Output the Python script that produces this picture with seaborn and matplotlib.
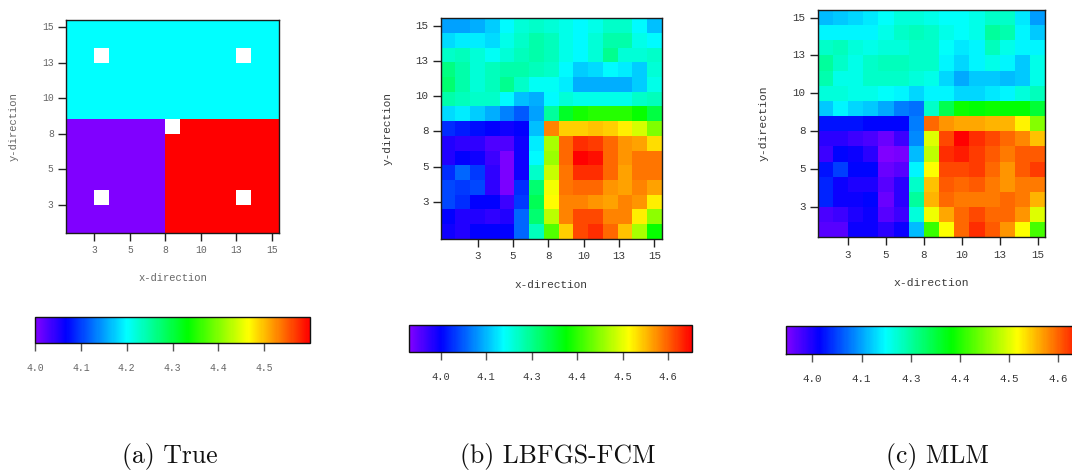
import numpy as np
import pandas as pd
import matplotlib
matplotlib.use("Agg")
import matplotlib.pyplot as plt
import seaborn as sns
from matplotlib.colors import LinearSegmentedColormap, Normalize
from matplotlib.cm import ScalarMappable

nan = np.nan

# ---------------- data ----------------
x_cells = list(range(1, 16))
y_cells = list(range(15, 0, -1))  # rows listed from top (y=15) to bottom (y=1)

true_vals = [
    [4.2, 4.2, 4.2, 4.2, 4.2, 4.2, 4.2, 4.2, 4.2, 4.2, 4.2, 4.2, 4.2, 4.2, 4.2],
    [4.2, 4.2, 4.2, 4.2, 4.2, 4.2, 4.2, 4.2, 4.2, 4.2, 4.2, 4.2, 4.2, 4.2, 4.2],
    [4.2, 4.2, nan, 4.2, 4.2, 4.2, 4.2, 4.2, 4.2, 4.2, 4.2, 4.2, nan, 4.2, 4.2],
    [4.2, 4.2, 4.2, 4.2, 4.2, 4.2, 4.2, 4.2, 4.2, 4.2, 4.2, 4.2, 4.2, 4.2, 4.2],
    [4.2, 4.2, 4.2, 4.2, 4.2, 4.2, 4.2, 4.2, 4.2, 4.2, 4.2, 4.2, 4.2, 4.2, 4.2],
    [4.2, 4.2, 4.2, 4.2, 4.2, 4.2, 4.2, 4.2, 4.2, 4.2, 4.2, 4.2, 4.2, 4.2, 4.2],
    [4.2, 4.2, 4.2, 4.2, 4.2, 4.2, 4.2, 4.2, 4.2, 4.2, 4.2, 4.2, 4.2, 4.2, 4.2],
    [4.0, 4.0, 4.0, 4.0, 4.0, 4.0, 4.0, nan, 4.6, 4.6, 4.6, 4.6, 4.6, 4.6, 4.6],
    [4.0, 4.0, 4.0, 4.0, 4.0, 4.0, 4.0, 4.6, 4.6, 4.6, 4.6, 4.6, 4.6, 4.6, 4.6],
    [4.0, 4.0, 4.0, 4.0, 4.0, 4.0, 4.0, 4.6, 4.6, 4.6, 4.6, 4.6, 4.6, 4.6, 4.6],
    [4.0, 4.0, 4.0, 4.0, 4.0, 4.0, 4.0, 4.6, 4.6, 4.6, 4.6, 4.6, 4.6, 4.6, 4.6],
    [4.0, 4.0, 4.0, 4.0, 4.0, 4.0, 4.0, 4.6, 4.6, 4.6, 4.6, 4.6, 4.6, 4.6, 4.6],
    [4.0, 4.0, nan, 4.0, 4.0, 4.0, 4.0, 4.6, 4.6, 4.6, 4.6, 4.6, nan, 4.6, 4.6],
    [4.0, 4.0, 4.0, 4.0, 4.0, 4.0, 4.0, 4.6, 4.6, 4.6, 4.6, 4.6, 4.6, 4.6, 4.6],
    [4.0, 4.0, 4.0, 4.0, 4.0, 4.0, 4.0, 4.6, 4.6, 4.6, 4.6, 4.6, 4.6, 4.6, 4.6],
]

lbfgs_vals = [
    [4.11, 4.11, 4.12, 4.14, 4.17, 4.20, 4.21, 4.20, 4.19, 4.17, 4.19, 4.21, 4.21, 4.17, 4.13],
    [4.15, 4.16, 4.16, 4.15, 4.19, 4.21, 4.23, 4.22, 4.19, 4.17, 4.20, 4.23, 4.23, 4.19, 4.17],
    [4.21, 4.22, 4.20, 4.18, 4.20, 4.22, 4.23, 4.22, 4.19, 4.17, 4.20, 4.25, 4.20, 4.20, 4.21],
    [4.26, 4.23, 4.20, 4.22, 4.23, 4.23, 4.22, 4.21, 4.17, 4.14, 4.15, 4.17, 4.16, 4.14, 4.20],
    [4.27, 4.23, 4.20, 4.22, 4.25, 4.21, 4.18, 4.18, 4.16, 4.12, 4.12, 4.12, 4.12, 4.14, 4.19],
    [4.23, 4.22, 4.21, 4.21, 4.17, 4.13, 4.12, 4.17, 4.20, 4.19, 4.19, 4.19, 4.19, 4.21, 4.22],
    [4.15, 4.16, 4.14, 4.12, 4.09, 4.06, 4.11, 4.24, 4.32, 4.36, 4.37, 4.37, 4.37, 4.35, 4.30],
    [4.03, 4.02, 4.01, 4.00, 3.99, 4.00, 4.13, 4.60, 4.55, 4.55, 4.56, 4.55, 4.53, 4.49, 4.43],
    [3.98, 3.97, 3.97, 3.95, 3.95, 3.99, 4.16, 4.46, 4.62, 4.66, 4.65, 4.62, 4.59, 4.58, 4.54],
    [3.98, 4.00, 3.99, 3.96, 3.92, 3.99, 4.17, 4.45, 4.62, 4.69, 4.68, 4.62, 4.59, 4.61, 4.61],
    [4.03, 4.07, 4.04, 3.97, 3.92, 3.99, 4.21, 4.48, 4.61, 4.66, 4.66, 4.62, 4.58, 4.61, 4.61],
    [4.05, 4.04, 4.05, 3.97, 3.92, 4.03, 4.27, 4.51, 4.61, 4.62, 4.62, 4.59, 4.58, 4.60, 4.58],
    [4.05, 4.03, 4.00, 4.00, 3.96, 4.04, 4.29, 4.52, 4.60, 4.60, 4.59, 4.58, 4.60, 4.59, 4.53],
    [4.00, 3.98, 3.98, 3.97, 3.98, 4.07, 4.27, 4.47, 4.60, 4.64, 4.64, 4.60, 4.60, 4.53, 4.44],
    [3.99, 3.98, 4.00, 4.00, 4.00, 4.07, 4.22, 4.40, 4.55, 4.64, 4.66, 4.62, 4.56, 4.46, 4.35],
]

mlm_vals = [
    [4.14, 4.15, 4.16, 4.17, 4.19, 4.21, 4.21, 4.20, 4.19, 4.19, 4.20, 4.22, 4.22, 4.17, 4.12],
    [4.18, 4.18, 4.18, 4.18, 4.20, 4.22, 4.23, 4.22, 4.20, 4.19, 4.20, 4.25, 4.24, 4.18, 4.15],
    [4.22, 4.23, 4.21, 4.20, 4.21, 4.21, 4.22, 4.22, 4.19, 4.17, 4.18, 4.23, 4.20, 4.18, 4.18],
    [4.25, 4.22, 4.20, 4.22, 4.23, 4.23, 4.22, 4.22, 4.18, 4.16, 4.18, 4.20, 4.18, 4.15, 4.20],
    [4.24, 4.20, 4.20, 4.22, 4.22, 4.22, 4.21, 4.20, 4.16, 4.13, 4.15, 4.15, 4.14, 4.15, 4.20],
    [4.21, 4.21, 4.20, 4.20, 4.19, 4.18, 4.16, 4.18, 4.18, 4.16, 4.16, 4.17, 4.18, 4.21, 4.23],
    [4.15, 4.18, 4.16, 4.15, 4.13, 4.10, 4.09, 4.22, 4.30, 4.36, 4.35, 4.36, 4.35, 4.35, 4.32],
    [4.03, 4.03, 4.03, 4.02, 4.02, 4.02, 4.10, 4.62, 4.59, 4.58, 4.58, 4.57, 4.57, 4.53, 4.44],
    [3.99, 3.99, 3.98, 3.97, 3.95, 3.98, 4.11, 4.50, 4.64, 4.69, 4.66, 4.64, 4.62, 4.60, 4.56],
    [3.98, 4.02, 4.01, 3.99, 3.93, 3.94, 4.14, 4.48, 4.66, 4.67, 4.65, 4.63, 4.61, 4.63, 4.63],
    [4.03, 4.06, 4.02, 4.02, 3.95, 3.96, 4.18, 4.52, 4.64, 4.64, 4.65, 4.62, 4.59, 4.63, 4.65],
    [4.04, 4.01, 4.00, 4.00, 3.96, 3.99, 4.22, 4.56, 4.63, 4.62, 4.63, 4.61, 4.59, 4.61, 4.61],
    [4.04, 4.01, 4.01, 4.02, 3.95, 3.99, 4.25, 4.57, 4.62, 4.61, 4.61, 4.61, 4.62, 4.61, 4.57],
    [3.97, 3.98, 4.00, 4.01, 3.96, 3.98, 4.21, 4.51, 4.58, 4.62, 4.64, 4.62, 4.62, 4.59, 4.50],
    [3.96, 3.96, 4.01, 4.01, 3.99, 4.01, 4.14, 4.39, 4.52, 4.62, 4.66, 4.63, 4.59, 4.52, 4.40],
]

captions = ["(a) True", "(b) LBFGS-FCM", "(c) MLM"]
grid_tick_labels = ["3", "5", "8", "10", "13", "15"]
grid_ticks_a = [2.5, 5.0, 7.5, 10.0, 12.5, 15.0]
grid_ticks_b = [3.0, 5.4, 7.8, 10.2, 12.6, 15.0]
grid_ticks_c = [2.5, 5.0, 7.5, 10.0, 12.5, 15.0]
cbar_ticks_a = [4.0, 4.1, 4.2, 4.3, 4.4, 4.5]
cbar_labels_a = ["4.0", "4.1", "4.2", "4.3", "4.4", "4.5"]
cbar_ticks_bc = [4.0, 4.125, 4.25, 4.375, 4.5, 4.625]
cbar_labels_bc = ["4.0", "4.1", "4.3", "4.4", "4.5", "4.6"]
ranges = [(4.0, 4.6), (3.914, 4.691), (3.933, 4.69)]

# ---------------- style ----------------
cmap = LinearSegmentedColormap.from_list(
    "purple_red",
    [(0.0, "#8000ff"), (1 / 9, "#0000ff"), (1 / 3, "#00ffff"),
     (5 / 9, "#00ff00"), (7 / 9, "#ffff00"), (1.0, "#ff0000")])

W, H = 1072, 471
fig = plt.figure(figsize=(W / 100, H / 100), dpi=100)
fig.patch.set_facecolor("white")

def px_rect(l, t, r, b):
    return [l / W, 1 - b / H, (r - l) / W, (b - t) / H]

panels = [
    dict(vals=true_vals, ticks=grid_ticks_a, rect=px_rect(66, 20, 279, 233),
         cbar_rect=px_rect(35.3, 317.3, 309.7, 343.3), cticks=cbar_ticks_a, clabels=cbar_labels_a,
         tfs=7.0, lfs=7.6, cfs=7.0, tcol="#666666", xl=(0.5, -0.21), yl=(-0.245, 0.5), cap_x=170),
    dict(vals=lbfgs_vals, ticks=grid_ticks_b, rect=px_rect(440.7, 18.3, 661.7, 238.7),
         cbar_rect=px_rect(409.3, 325, 692, 352.3), cticks=cbar_ticks_bc, clabels=cbar_labels_bc,
         tfs=7.8, lfs=8.0, cfs=7.5, tcol="#3a3a3a", xl=(0.497, -0.21), yl=(-0.238, 0.5), cap_x=558),
    dict(vals=mlm_vals, ticks=grid_ticks_c, rect=px_rect(817.7, 10, 1045.3, 237.3),
         cbar_rect=px_rect(786, 326, 1084, 354.3), cticks=cbar_ticks_bc, clabels=cbar_labels_bc,
         tfs=7.8, lfs=8.2, cfs=7.8, tcol="#3a3a3a", xl=(0.497, -0.202), yl=(-0.239, 0.5), cap_x=937),
]

mono = "Liberation Mono"

for i, p in enumerate(panels):
    vmin, vmax = ranges[i]
    df = pd.DataFrame(p["vals"], index=y_cells, columns=x_cells)
    ax = fig.add_axes(p["rect"])
    sns.heatmap(df, ax=ax, cmap=cmap, vmin=vmin, vmax=vmax, cbar=False, linewidths=0)
    ax.set_facecolor("white")
    for s in ax.spines.values():
        s.set_visible(True)
        s.set_color("#1a1a1a")
        s.set_linewidth(1.0)
    # data value -> heatmap cell coordinate
    ax.set_xticks([t - 0.5 for t in p["ticks"]])
    ax.set_xticklabels(grid_tick_labels, rotation=0)
    ax.set_yticks([15.5 - t for t in p["ticks"]])
    ax.set_yticklabels(grid_tick_labels, rotation=0)
    ax.tick_params(axis="both", direction="out", length=5.8, width=1.0, pad=3,
                   color="#222222", labelcolor=p["tcol"], labelsize=p["tfs"])
    for lab in ax.get_xticklabels() + ax.get_yticklabels():
        lab.set_family(mono)
    ax.set_xlabel("x-direction", family=mono, fontsize=p["lfs"], color=p["tcol"])
    ax.set_ylabel("y-direction", family=mono, fontsize=p["lfs"], color=p["tcol"])
    ax.xaxis.set_label_coords(*p["xl"])
    ax.yaxis.set_label_coords(*p["yl"])
    ax.xaxis.label.set_va("center")
    ax.yaxis.label.set_va("center")

    cax = fig.add_axes(p["cbar_rect"])
    sm = ScalarMappable(norm=Normalize(vmin=vmin, vmax=vmax), cmap=cmap)
    cb = fig.colorbar(sm, cax=cax, orientation="horizontal")
    cb.set_ticks(p["cticks"])
    cb.set_ticklabels(p["clabels"])
    cb.outline.set_linewidth(1.0)
    cb.outline.set_edgecolor("#111111")
    cax.tick_params(axis="x", direction="out", length=6, width=1.0, pad=8,
                    color="#555555", labelcolor=p["tcol"], labelsize=p["cfs"])
    for lab in cax.get_xticklabels():
        lab.set_family(mono)

    fig.text(p["cap_x"] / W, 1 - 457 / H, captions[i], family="cmr10",
             fontsize=18.5, ha="center", va="center", color="#111111")

fig.savefig("out.png", dpi=100, facecolor="white")
